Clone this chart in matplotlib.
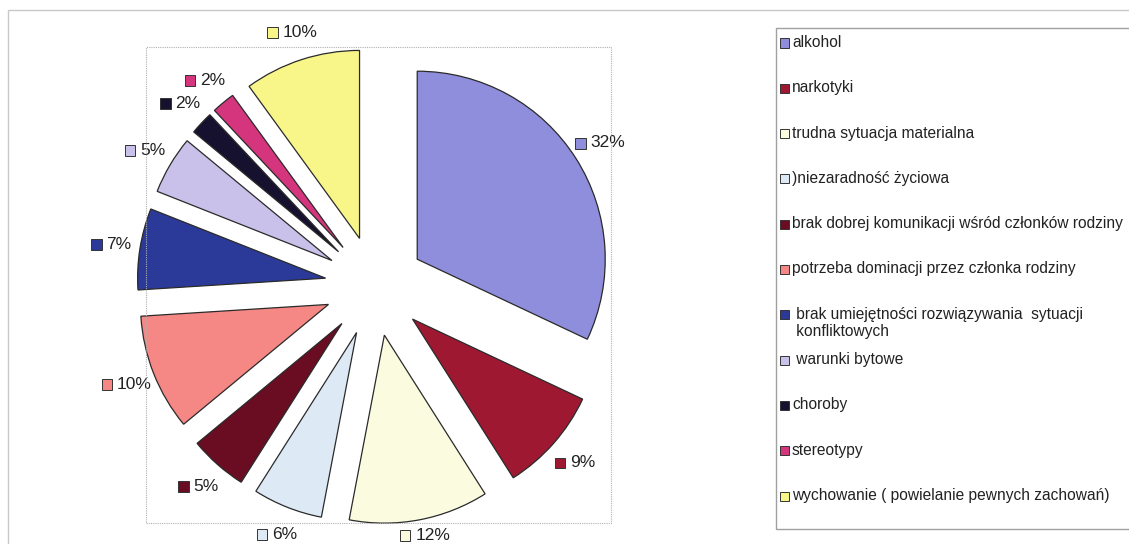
import matplotlib
matplotlib.use("Agg")
import matplotlib.pyplot as plt
import numpy as np
from matplotlib.patches import Rectangle
from matplotlib.offsetbox import AnnotationBbox, HPacker, TextArea, DrawingArea

plt.rcParams['font.family'] = ['Liberation Sans', 'DejaVu Sans']

labels = [
    "alkohol",
    "narkotyki",
    "trudna sytuacja materialna",
    ")niezaradność życiowa",
    "brak dobrej komunikacji wśród członków rodziny",
    "potrzeba dominacji przez członka rodziny",
    " brak umiejętności rozwiązywania  sytuacji\n konfliktowych",
    " warunki bytowe",
    "choroby",
    "stereotypy",
    "wychowanie ( powielanie pewnych zachowań)",
]
values = [32, 9, 12, 6, 5, 10, 7, 5, 2, 2, 10]
colors = ["#8E8EDC", "#9E1832", "#FBFBDF", "#DDEAF6", "#6A0C22", "#F58884",
          "#2B3A98", "#C9C1E9", "#16112E", "#D4357C", "#F8F688"]

W, H = 1129, 544
fig = plt.figure(figsize=(W / 100, H / 100), dpi=100)


def fx(px):
    return px / W


def fy(py):
    return 1 - py / H


# outer chart frame
fig.add_artist(Rectangle((fx(8), fy(560)), fx(1140) - fx(8), fy(10) - fy(560),
                         transform=fig.transFigure, fill=False,
                         edgecolor="#c8c8c8", linewidth=1.0))
# plot area (dotted)
fig.add_artist(Rectangle((fx(146), fy(523)), fx(611) - fx(146), fy(47) - fy(523),
                         transform=fig.transFigure, fill=False,
                         edgecolor="#b0b0b0", linewidth=0.8, linestyle=(0, (1, 1))))
# legend box
fig.add_artist(Rectangle((fx(776), fy(529)), fx(1140) - fx(776), fy(28) - fy(529),
                         transform=fig.transFigure, fill=False,
                         edgecolor="#a0a0a0", linewidth=1.0))

# pie axes: 1 data unit = R pixels, centre at (cx, cy)
R = 188.0
cx, cy = 375.0, 286.0
ax = fig.add_axes([0, 0, 1, 1])
explode = [0.266] * len(values)
wedges, _ = ax.pie(values, colors=colors, explode=explode, startangle=90,
                   counterclock=False,
                   wedgeprops=dict(edgecolor="#2a2a2a", linewidth=0.9))
ax.set_xlim(-cx / R, (W - cx) / R)
ax.set_ylim(-(H - cy) / R, cy / R)
ax.set_aspect('auto')
ax.axis('off')

total = sum(values)
y_floor = -(535 - cy) / R
for w, v, c in zip(wedges, values, colors):
    mid = np.deg2rad((w.theta1 + w.theta2) / 2)
    r_lab = 1.42
    x, y = r_lab * np.cos(mid), r_lab * np.sin(mid)
    y = max(y, y_floor)
    da = DrawingArea(8, 8, 0, 0)
    da.add_artist(Rectangle((0, 0), 7.5, 7.5, facecolor=c, edgecolor="#333333",
                            linewidth=0.7))
    ta = TextArea("%d%%" % round(100 * v / total),
                  textprops=dict(fontsize=12.5, color="#222222"))
    box = HPacker(children=[da, ta], align="center", pad=0, sep=3)
    ab = AnnotationBbox(box, (x, y), frameon=False, box_alignment=(0.5, 0.5),
                        pad=0)
    ax.add_artist(ab)

# legend drawn by hand to keep the uneven spacing of the original
leg_x = 780
y0, step = 43, 45.3
for i, (lab, c) in enumerate(zip(labels, colors)):
    yc = y0 + i * step
    fig.add_artist(Rectangle((fx(leg_x), fy(yc + 4.5)), fx(9), 9 / H,
                             transform=fig.transFigure, facecolor=c,
                             edgecolor="#333333", linewidth=0.7))
    fig.text(fx(leg_x + 12), fy(yc - 8), lab, fontsize=11.2, color="#222222",
             ha="left", va="top", linespacing=1.15)

fig.savefig("out.png", dpi=100, facecolor="white")
